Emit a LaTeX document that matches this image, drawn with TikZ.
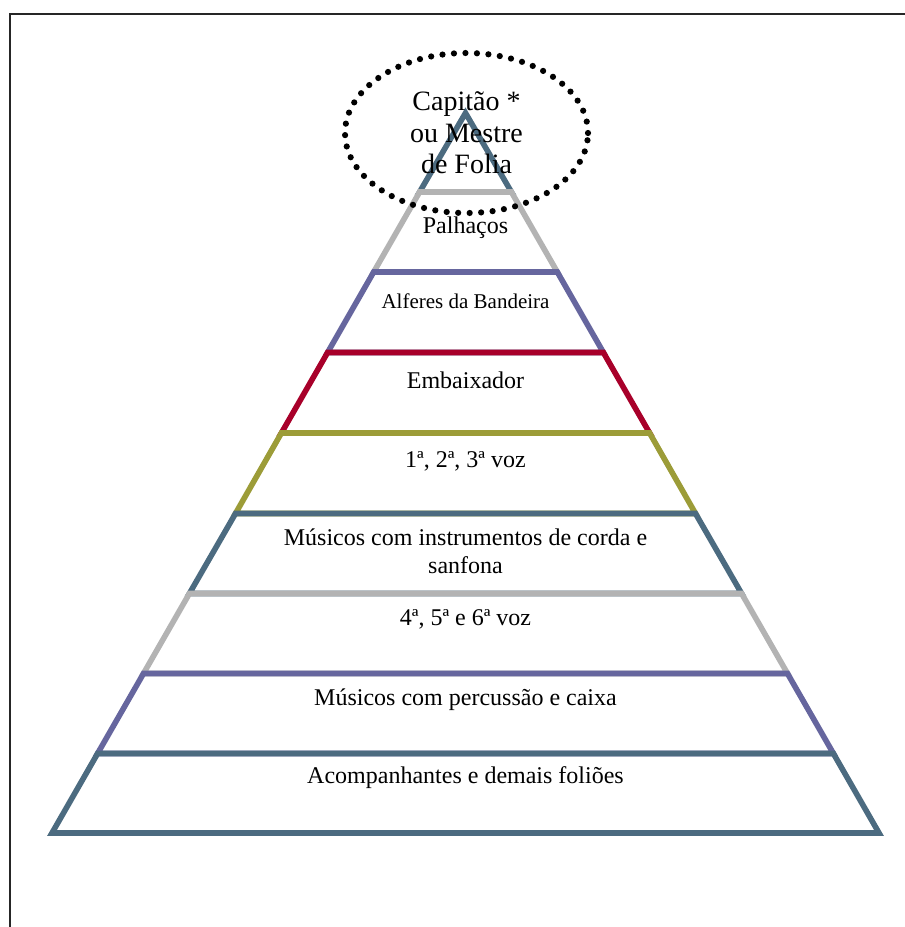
\documentclass[tikz,border=0pt]{standalone}
\usepackage{fontspec}
\setmainfont{Liberation Serif}
\usepackage{tikz}
\usetikzlibrary{
  shapes.geometric, % for the dotted ellipse round the top label
  positioning
}
\definecolor{slate}{HTML}{4C6B80}
\definecolor{lgray}{HTML}{B3B3B3}
\definecolor{violet}{HTML}{66669E}
\definecolor{crimson}{HTML}{A8002A}
\definecolor{olive}{HTML}{9C9C38}
\tikzset{
  level/.style={ % style for each layer of the pyramid
    draw=#1, % outline in the layer colour
    line width=5.6pt, % thick outline
    line join=miter, % sharp corners
  },
  rank/.style={ % style for the texts inside the layers
    anchor=base, % placed by the base line (of the last line)
    inner sep=0pt,
    align=center,
    font=\fontsize{24}{28}\selectfont,
  },
  chief/.style={ % style for the ringed top label
    ellipse, % drawn as an ellipse
    minimum width=243pt, minimum height=160pt,
    inner sep=0pt,
    align=center,
    font=\fontsize{28}{31.5}\selectfont,
    draw, line width=6.2pt, % dots of the ring
    dash pattern=on 0pt off 11.5pt, line cap=round, % round dots
  },
  frame/.style={ % style for the page border
    draw=black!85, line width=2pt,
  },
}

\begin{document}
\begin{tikzpicture}[x=1pt,y=-1pt]
\useasboundingbox (0,0) rectangle (905,927);
\draw[frame] (9.5,927) -- (9.5,13.5) -- (905,13.5);
% layers, from the top down
\draw[level=slate] (465.5,113) -- (511.4,192) -- (419.6,192) -- cycle;
\draw[level=lgray] (419.6,192) -- (511.4,192) -- (557.3,272) -- (373.7,272) -- cycle;
\draw[level=violet] (373.7,272) -- (557.3,272) -- (603.4,352.5) -- (327.6,352.5) -- cycle;
\draw[level=crimson] (327.6,352.5) -- (603.4,352.5) -- (649.6,433) -- (281.4,433) -- cycle;
\draw[level=olive] (281.4,433) -- (649.6,433) -- (695.5,513.5) -- (235.5,513.5) -- cycle;
\draw[level=slate] (235.5,513.5) -- (695.5,513.5) -- (741.6,593.5) -- (189.4,593.5) -- cycle;
\draw[level=lgray] (189.4,593.5) -- (741.6,593.5) -- (787.5,673.5) -- (143.5,673.5) -- cycle;
\draw[level=violet] (143.5,673.5) -- (787.5,673.5) -- (833.4,753.5) -- (97.6,753.5) -- cycle;
\draw[level=slate] (97.6,753.5) -- (833.4,753.5) -- (879,833) -- (52,833) -- cycle;
% texts
\node[rank] (palhacos) at (465.5,233) {Palhaços};
\node[rank, font=\fontsize{21}{25}\selectfont] (alferes) at (465.5,308) {Alferes da Bandeira};
\node[rank] (embaixador) at (465.5,388) {Embaixador};
\node[rank] (vozA) at (465.5,467) {1ª, 2ª, 3ª voz};
\node[rank] (cordas) at (465.5,573) {Músicos com instrumentos de corda e\\sanfona};
\node[rank] (vozB) at (465.5,625) {4ª, 5ª e 6ª voz};
\node[rank] (percussao) at (465.5,705) {Músicos com percussão e caixa};
\node[rank] (folioes) at (465.5,783) {Acompanhantes e demais foliões};
\node[chief] (capitao) at (466.5,133) {Capitão *\\ou Mestre\\de Folia};
\end{tikzpicture}
\end{document}
